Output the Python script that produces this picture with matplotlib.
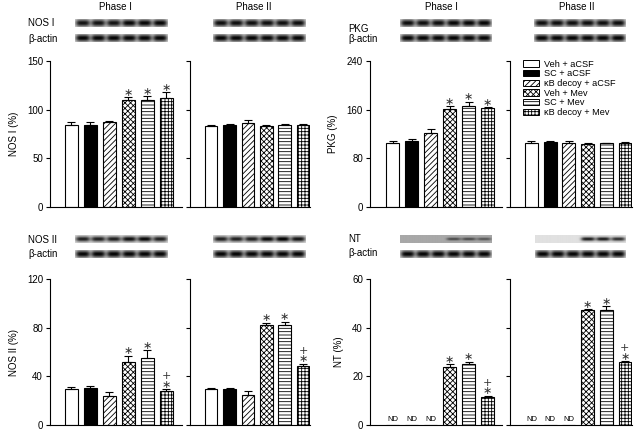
import numpy as np
import matplotlib
matplotlib.use('Agg')
from matplotlib import pyplot as plt

plt.rcParams['font.family'] = ['Liberation Sans', 'DejaVu Sans']
plt.rcParams['hatch.linewidth'] = 0.6
plt.rcParams['axes.linewidth'] = 0.8

groups = ['Veh + aCSF', 'SC + aCSF', '\u03baB decoy + aCSF', 'Veh + Mev', 'SC + Mev', '\u03baB decoy + Mev']

# ~~~~~~~~~~~~~~~ values (%) ~~~~~~~~~~~~~~~
nos1_p1 = [84.7, 84.0, 87.0, 110.0, 110.0, 111.6]
nos1_p1_err = [3.1, 3.8, 1.8, 3.0, 4.0, 6.1]
nos1_p2 = [83.0, 84.0, 86.7, 83.7, 84.4, 84.7]
nos1_p2_err = [1.7, 1.4, 2.3, 0.7, 1.3, 0.7]

pkg_p1 = [104.5, 109.0, 121.0, 161.0, 166.5, 163.0]
pkg_p1_err = [4.5, 2.5, 8.0, 4.5, 6.5, 1.0]
pkg_p2 = [106.0, 107.0, 106.0, 103.0, 104.5, 105.0]
pkg_p2_err = [2.0, 1.0, 2.0, 1.5, 1.2, 1.2]

nos2_p1 = [29.9, 30.4, 23.8, 51.5, 55.3, 27.7]
nos2_p1_err = [1.6, 1.4, 3.0, 5.5, 6.1, 1.9]
nos2_p2 = [29.9, 29.9, 24.7, 82.2, 82.5, 48.2]
nos2_p2_err = [0.8, 0.8, 3.5, 1.9, 2.4, 2.2]

nt_p1 = [np.nan, np.nan, np.nan, 24.0, 24.9, 11.4]
nt_p1_err = [0, 0, 0, 1.1, 1.1, 0.6]
nt_p2 = [np.nan, np.nan, np.nan, 47.3, 47.3, 25.8]
nt_p2_err = [0, 0, 0, 0.4, 1.5, 0.5]

# significance marks
sig_nos1_p1 = ['', '', '', '*', '*', '*']
sig_pkg_p1 = ['', '', '', '*', '*', '*']
sig_none = ['', '', '', '', '', '']
sig_nos2_p1 = ['', '', '', '*', '*', '*+']
sig_nos2_p2 = ['', '', '', '*', '*', '*+']
sig_nt = ['', '', '', '*', '*', '*+']

# western blot band strengths (0 = no band)
blot_nos1_p1 = [0.8, 0.8, 0.8, 0.85, 0.85, 0.85]
blot_nos1_p2 = [0.82, 0.82, 0.82, 0.82, 0.82, 0.82]
blot_pkg_p1 = [0.82, 0.82, 0.82, 0.85, 0.85, 0.85]
blot_pkg_p2 = [0.82, 0.82, 0.82, 0.82, 0.82, 0.82]
blot_nos2_p1 = [0.75, 0.75, 0.75, 0.82, 0.85, 0.75]
blot_nos2_p2 = [0.75, 0.75, 0.75, 0.85, 0.88, 0.8]
blot_nt_p1 = [0, 0, 0, 0.4, 0.4, 0.35]
blot_nt_p2 = [0, 0, 0, 0.8, 0.8, 0.72]
blot_actin = [0.85, 0.85, 0.85, 0.85, 0.85, 0.85]

colors = ['white', 'black', 'white', 'white', 'white', 'white']
hatches = ['', '', '//////', 'xxxxxx', '-----', '+++++']

W, H = 643, 432
fig = plt.figure(figsize=(6.43, 4.32), dpi=100)


def px_axes(x0, y0, x1, y1):
    # pixel box (top-left origin) -> figure axes
    return fig.add_axes([x0 / W, 1 - y1 / H, (x1 - x0) / W, (y1 - y0) / H])


def bar_panel(box, vals, errs, sig, ylim, yticks, xlim, ylabel=None, labels=True):
    ax = px_axes(*box)
    x = np.arange(len(vals))
    v = np.nan_to_num(np.array(vals, dtype=float))
    ax.bar(x, v, width=0.68, color=colors, edgecolor='black', linewidth=0.8,
           hatch=hatches, zorder=2)
    for i in range(len(vals)):
        if np.isnan(vals[i]):
            ax.text(x[i], ylim[1] * 0.012, 'ND', ha='center', va='bottom', fontsize=5.5)
            continue
        ax.errorbar(x[i], v[i], yerr=[[0], [errs[i]]], color='black', lw=0.8,
                    capsize=3, capthick=0.8, zorder=3)
        top = v[i] + errs[i]
        if sig[i]:
            s = '+\n\u2217' if '+' in sig[i] else '\u2217'
            ax.annotate(s, (x[i], top), xytext=(0, -0.5), textcoords='offset points',
                        ha='center', va='bottom', fontsize=8, family='DejaVu Sans',
                        color='#333333', linespacing=0.8)
    ax.set_xlim(*xlim)
    ax.set_ylim(*ylim)
    ax.set_yticks(yticks)
    ax.set_xticks([])
    ax.spines['top'].set_visible(False)
    ax.spines['right'].set_visible(False)
    ax.tick_params(axis='y', direction='out', length=3, width=0.8, labelsize=7, pad=2)
    if not labels:
        ax.set_yticklabels([])
    if ylabel:
        ax.set_ylabel(ylabel, fontsize=7, labelpad=6)
    return ax


def blot(box, strength, bg=0.86, thick=0.46):
    ax = px_axes(*box)
    xx = np.linspace(0, 6, 240)
    yy = np.linspace(0, 1, 24)
    X, Y = np.meshgrid(xx, yy)
    img = np.full(X.shape, bg)
    for i, s in enumerate(strength):
        prof = np.exp(-((X - (i + 0.5)) / 0.46) ** 4) * np.exp(-((Y - 0.5) / thick) ** 2)
        img = img - s * prof
    ax.imshow(np.clip(img, 0, 1), cmap='gray', vmin=0, vmax=1, aspect='auto',
              interpolation='bilinear', extent=[0, 6, 0, 1])
    ax.axis('off')
    return ax


lim_a = (-1.13, 5.84)
lim_b = (-1.15, 5.38)

bar_panel((50, 61, 182, 207), nos1_p1, nos1_p1_err, sig_nos1_p1, (0, 150), [0, 50, 100, 150], lim_a, 'NOS I (%)')
bar_panel((190, 61, 310, 207), nos1_p2, nos1_p2_err, sig_none, (0, 150), [0, 50, 100, 150], lim_b, labels=False)
bar_panel((370, 61, 502, 207), pkg_p1, pkg_p1_err, sig_pkg_p1, (0, 240), [0, 80, 160, 240], (-1.2, 5.76), 'PKG (%)')
ax4 = bar_panel((510, 61, 632, 207), pkg_p2, pkg_p2_err, sig_none, (0, 240), [0, 80, 160, 240], lim_b, labels=False)
bar_panel((50, 279, 182, 425), nos2_p1, nos2_p1_err, sig_nos2_p1, (0, 120), [0, 40, 80, 120], lim_a, 'NOS II (%)')
bar_panel((190, 279, 310, 425), nos2_p2, nos2_p2_err, sig_nos2_p2, (0, 120), [0, 40, 80, 120], lim_b, labels=False)
bar_panel((370, 279, 502, 425), nt_p1, nt_p1_err, sig_nt, (0, 60), [0, 20, 40, 60], (-1.2, 5.76), 'NT (%)')
bar_panel((510, 279, 632, 425), nt_p2, nt_p2_err, sig_nt, (0, 60), [0, 20, 40, 60], lim_b, labels=False)

# legend
handles = [plt.Rectangle((0, 0), 1, 1, facecolor=c, edgecolor='black', linewidth=0.7, hatch=h)
           for c, h in zip(colors, hatches)]
ax4.legend(handles, groups, loc='upper left', bbox_to_anchor=(0.11, 1.01), frameon=False,
           fontsize=6.6, handlelength=1.65, handleheight=0.7, handletextpad=0.55,
           labelspacing=0.08, borderpad=0, borderaxespad=0)

# ~~~~~~~~~~~~~~~ western blots ~~~~~~~~~~~~~~~
blot((75, 19, 167, 27), blot_nos1_p1)
blot((75, 34, 167, 42), blot_actin)
blot((213, 19, 306, 27), blot_nos1_p2)
blot((213, 34, 306, 42), blot_actin)
blot((400, 19, 492, 27), blot_pkg_p1)
blot((400, 34, 492, 42), blot_actin)
blot((534, 19, 626, 27), blot_pkg_p2)
blot((534, 34, 626, 42), blot_actin)
blot((75, 235, 167, 243), blot_nos2_p1, thick=0.34)
blot((75, 250, 167, 258), blot_actin)
blot((213, 235, 306, 243), blot_nos2_p2, thick=0.34)
blot((213, 250, 306, 258), blot_actin)
blot((400, 235, 492, 243), blot_nt_p1, bg=0.66, thick=0.18)
blot((400, 250, 492, 258), blot_actin)
blot((535, 235, 626, 243), blot_nt_p2, bg=0.88, thick=0.25)
blot((535, 250, 626, 258), blot_actin)

# blot labels and phase titles
def ftext(x, y, s, **kw):
    fig.text(x / W, 1 - y / H, s, va='center', fontsize=7, **kw)

ftext(115, 7, 'Phase I', ha='center')
ftext(254, 7, 'Phase II', ha='center')
ftext(441, 7, 'Phase I', ha='center')
ftext(577, 7, 'Phase II', ha='center')
ftext(28, 23, 'NOS I', ha='left')
ftext(28, 39, '\u03b2-actin', ha='left')
ftext(348, 29, 'PKG', ha='left')
ftext(348, 39, '\u03b2-actin', ha='left')
ftext(28, 240, 'NOS II', ha='left')
ftext(28, 254, '\u03b2-actin', ha='left')
ftext(348, 239, 'NT', ha='left')
ftext(348, 253, '\u03b2-actin', ha='left')

plt.savefig('out.png', dpi=100)
